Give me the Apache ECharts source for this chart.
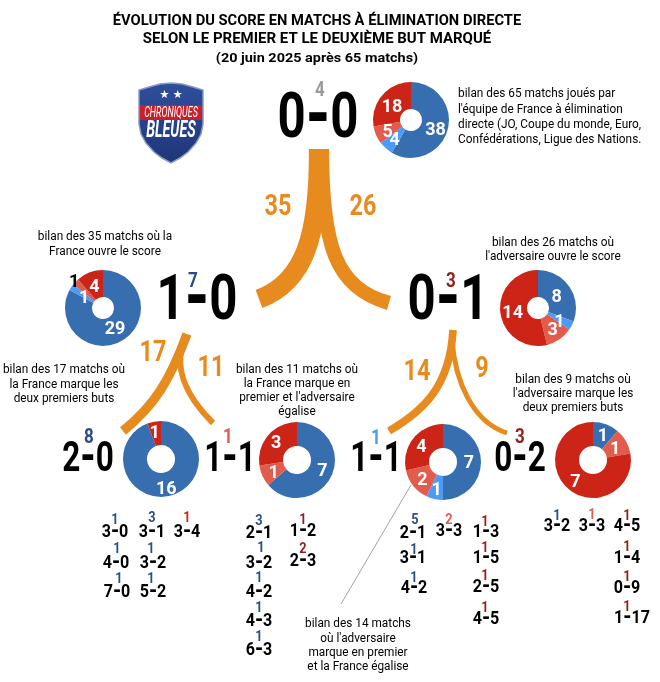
<!DOCTYPE html>
<html><head><meta charset="utf-8">
<style>html,body{margin:0;padding:0;background:#fff}#c{width:660px;height:682px}</style>
<script src="https://cdn.jsdelivr.net/npm/echarts@6/dist/echarts.min.js"></script></head>
<body><div id="c"></div>
<script>
// ---- data ----
const outcomes = ['victoire','victoire aux tirs au but','défaite aux tirs au but','défaite'];
const bilan65 = [38,4,5,18];
const bilan35 = [29,1,1,4];
const bilan26 = [8,1,3,14];
const bilan17 = [16,0,0,1];
const bilan11 = [7,0,1,3];
const bilan14 = [7,1,2,4];
const bilan9  = [1,0,1,7];
const flows = [35,26,17,11,14,9];
const titleLines = ['ÉVOLUTION DU SCORE EN MATCHS À ÉLIMINATION DIRECTE','SELON LE PREMIER ET LE DEUXIÈME BUT MARQUÉ','(20 juin 2025 après 65 matchs)'];
const nodeScores = ['0-0','1-0','0-1','2-0','1-1','1-1','0-2'];
const nodeCounts = [4,7,3,8,1,1,3];
const finalScores = ['3-0','3-1','3-4','4-0','3-2','7-0','5-2','2-1','3-2','4-2','4-3','6-3','1-2','2-3','2-1','3-1','4-2','3-3','1-3','1-5','2-5','4-5','3-2','3-3','4-5','1-4','0-9','1-17'];
const finalCounts = [1,3,1,1,1,1,1,3,1,1,1,1,1,2,5,1,1,2,1,1,1,1,1,1,1,1,1,1];
const finalKinds  = [0,0,3,0,0,0,0,0,0,0,0,0,4,4,0,0,0,2,4,4,4,4,0,2,4,4,4,4];
const notes = [
 ['bilan des 65 matchs joués par',"l'équipe de France à élimination",'directe (JO, Coupe du monde, Euro,','Confédérations, Ligue des Nations.'],
 ['bilan des 35 matchs où la','France ouvre le score'],
 ['bilan des 26 matchs où',"l'adversaire ouvre le score"],
 ['bilan des 17 matchs où','la France marque les','deux premiers buts'],
 ['bilan des 11 matchs où','la France marque en',"premier et l'adversaire",'égalise'],
 ['bilan des 9 matchs où',"l'adversaire marque les",'deux premiers buts'],
 ['bilan des 14 matchs',"où l'adversaire",'marque en premier','et la France égalise']
];

// ---- layout & style ----
const BLUE='#376eb0', LBLUE='#4d9bf8', LRED='#e25c4e', RED='#cc2518', ORANGE='#e88b1f', DBLUE='#2a4d85', DRED='#8f1f1a', GREY='#9a9a9a';
const sliceColors=[BLUE,LBLUE,LRED,RED];
const FONT='Roboto';
const FLOW_SCALE=0.55;
const pieLayout=[
 {data:bilan65,c:[411,120],r:[11,38],fs:18,nudge:{0:[-2,3],1:[2,0],2:[2,2],3:[2,5]}},
 {data:bilan35,c:[103,308],r:[11,38],fs:18,nudge:{0:[-2,-2],1:[4,6],2:[-9,-6,'#000'],3:[1,5]}},
 {data:bilan26,c:[538,308],r:[11,38],fs:18,nudge:{0:[-4,5],1:[-3,2],2:[-1,0],3:[2,2]}},
 {data:bilan17,c:[161,459],r:[14,38],fs:18,nudge:{0:[0,2],3:[-1,3]}},
 {data:bilan11,c:[297,460],r:[14,38],fs:18,nudge:{0:[-1,-1],2:[3,1],3:[1,2]}},
 {data:bilan14,c:[443,462],r:[14,38],fs:18,nudge:{0:[-3,1],2:[2,0],3:[1,4]}},
 {data:bilan9, c:[593,460],r:[14,38],fs:18,nudge:{0:[0,4],2:[-3,4],3:[1,0]}}
];
const nodeLayout=[
 {x:318,y:121,big:1,sx:320,sy:91,col:GREY},
 {x:197,y:303,big:1,sx:193,sy:282,col:DBLUE},
 {x:448,y:303,big:1,sx:451,sy:282,col:DRED},
 {x:88,y:460,big:0,sx:89,sy:438,col:DBLUE},
 {x:230,y:460,big:0,sx:228,sy:438,col:LRED},
 {x:376,y:460,big:0,sx:376,sy:439,col:LBLUE},
 {x:520,y:460,big:0,sx:520,sy:438,col:DRED}
];
const kindColors=[DBLUE,DBLUE,LRED,RED,DRED];
const finalLayout=[[115,532,115,520],[152,532,152,518],[187,532,187,518],[116,563,117,549],[153,563,151,549],[117,592,119,579],[153,592,151,579],
 [259,533,259,521],[259,563,261,548],[259,592,259,578],[259,621,259,608],[259,650,259,637],[303,531,303,520],[303,561,303,549],
 [413,533,415,520],[413,558,414,550],[414,588,414,578],[449,531,449,520],[486,532,485,522],[486,558,485,548],[486,587,485,576],[486,619,485,608],
 [557,526,557,516],[592,526,592,515],[627,526,627,516],[627,558,627,547],[627,588,627,577],[632,618,627,607]];
const flowCurves=[
 [318.5,149, 319,235, 305,282, 259,299],
 [322,149, 322,245, 335,288, 389,303],
 [187,334, 170,380, 155,405, 123,431],
 [184,340, 172,372, 190,400, 213,423],
 [453,330, 450,385, 425,410, 389,431],
 [452,340, 455,380, 472,422, 507,433]
];
const flowLabels=[[278,205],[363,205],[153,351],[211,366],[417,370],[482,367]];
const noteLayout=[
 {x:458,ys:[94,110,125,140],a:'left'},
 {x:105,ys:[237,252],a:'center'},
 {x:553,ys:[243,257],a:'center'},
 {x:64,ys:[370,385,399],a:'center'},
 {x:297,ys:[370,384,398,412],a:'center'},
 {x:573,ys:[380,394,408],a:'center'},
 {x:358,ys:[624,639,653,667],a:'center'}
];
const shieldOutline=[[171,83],[160,84],[149,87],[139,90],[139,124],[141,134],[146,143],[154,152],[162,158],[171,163],[180,158],[188,152],[196,143],[201,134],[203,124],[203,90],[193,87],[182,84]];

function T(s,x,y,size,o={}){
  return {type:'text',x,y,scaleX:o.sx||1,z:o.z||10,silent:true,style:{text:s,x:0,y:0,
    font:(o.w||'bold')+' '+size+'px '+(o.f||FONT),fill:o.c||'#000',align:o.a||'center',verticalAlign:'middle'}};
}
// score with a wide dash: same text, dash set larger inside a rich string
function S(s,x,y,size,dash,sx){
  const [a,b]=s.split('-');
  return {type:'text',x,y,scaleX:sx,z:10,silent:true,style:{
    text:'{d|'+a+'}{h|-}{d|'+b+'}',x:0,y:0,align:'center',verticalAlign:'middle',fill:'#000',
    rich:{d:{fontFamily:FONT,fontWeight:'bold',fontSize:size,fill:'#000',verticalAlign:'middle'},
          h:{fontFamily:FONT,fontWeight:'bold',fontSize:dash,fill:'#000',verticalAlign:'middle'}}}};
}
const g=[];
titleLines.forEach((s,i)=>g.push(T(s,317,[21,39,59][i],i<2?14:13,{sx:[1.05,1.07,1.11][i]})));
flowCurves.forEach((p,i)=>g.push({type:'bezierCurve',silent:true,z:2,
  shape:{x1:p[0],y1:p[1],cpx1:p[2],cpy1:p[3],cpx2:p[4],cpy2:p[5],x2:p[6],y2:p[7]},
  style:{stroke:ORANGE,fill:null,lineWidth:flows[i]*FLOW_SCALE,lineCap:'butt'}}));
flows.forEach((v,i)=>g.push(T(String(v),flowLabels[i][0],flowLabels[i][1]+2,30,{c:ORANGE,sx:.78})));
nodeScores.forEach((s,i)=>{const n=nodeLayout[i];
  g.push(S(s,n.x,n.y,n.big?63:42,n.big?80:52,n.big?.78:.75));
  g.push(T(String(nodeCounts[i]),n.sx,n.sy,20,{c:n.col,sx:.85,z:11}));
});
finalScores.forEach((s,i)=>{const l=finalLayout[i];
  g.push(S(s,l[0],l[1],18.5,24,.87));
  g.push(T(String(finalCounts[i]),l[2],l[3],15,{c:kindColors[finalKinds[i]],sx:.85,z:11}));
});
notes.forEach((lines,i)=>{const n=noteLayout[i];
  lines.forEach((s,j)=>g.push(T(s,n.x,n.ys[j],12,{w:'normal',a:n.a,sx:.985})));
});
g.push({type:'line',silent:true,z:3,shape:{x1:411,y1:485,x2:341,y2:604},style:{stroke:'#8a8a8a',lineWidth:.8}});
// logo
g.push({type:'polygon',silent:true,z:4,shape:{points:shieldOutline},
  style:{fill:{type:'linear',x:0,y:0,x2:0,y2:1,colorStops:[{offset:0,color:'#2f4f9b'},{offset:1,color:'#1f3579'}]},stroke:'#8c9ac6',lineWidth:1.5}});
g.push({type:'rect',silent:true,z:5,shape:{x:140,y:105,width:62,height:15},style:{fill:'#c8202b'}});
g.push(T('★ ★',171,95,11,{c:'#fff',f:'"DejaVu Sans"',z:6,w:'normal'}));
g.push(T('CHRONIQUES',171,113,15,{c:'#fff',z:6,w:'italic normal',sx:.6}));
g.push(T('BLEUES',171,131,23,{c:'#fff',z:6,w:'italic bold',sx:.62}));

const series=pieLayout.map(p=>({
  type:'pie',silent:true,center:p.c,radius:p.r,startAngle:90,clockwise:true,animation:false,
  avoidLabelOverlap:false,labelLine:{show:false},
  itemStyle:{borderWidth:0},
  data:p.data.map((v,i)=>({value:v,name:outcomes[i],itemStyle:{color:sliceColors[i]},
     label:{show:v>0,color:(p.nudge[i]&&p.nudge[i][2])||'#fff'}})),
  label:{position:'inside',formatter:'{c}',fontFamily:FONT,fontWeight:'bold',fontSize:p.fs,color:'#fff'},
  labelLayout:(q)=>{const n=p.nudge[q.dataIndex];return n?{dx:n[0],dy:n[1]}:{};}
}));
const chart=echarts.init(document.getElementById('c'),null,{renderer:'canvas',width:660,height:682});
chart.setOption({animation:false,backgroundColor:'#fff',tooltip:{show:false},series,graphic:{elements:g}});
</script></body></html>
